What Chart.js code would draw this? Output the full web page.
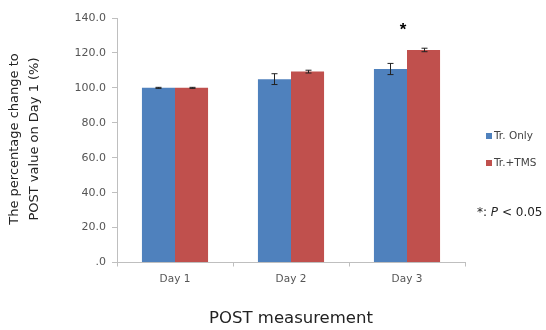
<!DOCTYPE html>
<html><head><meta charset="utf-8">
<script src="https://cdn.jsdelivr.net/npm/chart.js@4/dist/chart.umd.min.js"></script>
<style>html,body{margin:0;padding:0;background:#fff}#wrap{width:546px;height:330px}</style>
</head><body><div id="wrap"><canvas id="c" width="546" height="330"></canvas></div>
<script>
const categories = ['Day 1', 'Day 2', 'Day 3'];
const trOnly = [100.0, 105.0, 110.8];
const trOnlyErr = [0.3, 3.1, 3.2];
const trTMS = [100.0, 109.3, 121.7];
const trTMSErr = [0.3, 0.8, 1.0];
const seriesNames = ['Tr. Only', 'Tr.+TMS'];
const yTicks = [0, 20, 40, 60, 80, 100, 120, 140];
const sigIndex = 2;
const sigNote = ['*: ', 'P', ' < 0.05'];
const yTitle = ['The percentage change to', 'POST value on Day 1 (%)'];
const xTitle = 'POST measurement';

const blue = '#4F81BD', red = '#C0504D';
const errs = [trOnlyErr, trTMSErr];
const FF = '"DejaVu Sans", sans-serif';

const overlay = {
  id: 'overlay',
  afterDatasetsDraw(chart) {
    const ctx = chart.ctx, y = chart.scales.y;
    ctx.save();
    ctx.strokeStyle = '#222'; ctx.lineWidth = 1;
    chart.data.datasets.forEach((ds, di) => {
      const meta = chart.getDatasetMeta(di);
      meta.data.forEach((bar, i) => {
        const v = ds.data[i], e = errs[di][i];
        const x = Math.round(bar.x) + 0.5;
        const yt = y.getPixelForValue(v + e), yb = y.getPixelForValue(v - e);
        ctx.beginPath();
        ctx.moveTo(x, yt); ctx.lineTo(x, yb);
        ctx.moveTo(x - 3, yt); ctx.lineTo(x + 3, yt);
        ctx.moveTo(x - 3, yb); ctx.lineTo(x + 3, yb);
        ctx.stroke();
      });
    });
    // significance asterisk
    const xs = chart.scales.x.getPixelForValue(sigIndex);
    ctx.fillStyle = '#000';
    ctx.font = 'bold 17px "Liberation Sans", Arial, sans-serif';
    ctx.textAlign = 'center'; ctx.textBaseline = 'middle';
    ctx.fillText('*', xs - 4, y.getPixelForValue(136) + 5);
    // axis titles
    ctx.fillStyle = '#222';
    ctx.font = '16.5px ' + FF;
    ctx.fillText(xTitle, 291, 319);
    ctx.font = '13px ' + FF;
    ctx.save();
    ctx.translate(15, 139); ctx.rotate(-Math.PI / 2);
    ctx.fillText(yTitle[0], 0, 0);
    ctx.restore();
    ctx.save();
    ctx.translate(35, 139); ctx.rotate(-Math.PI / 2);
    ctx.fillText(yTitle[1], 0, 0);
    ctx.restore();
    // legend
    ctx.font = '10.5px ' + FF;
    ctx.textAlign = 'left';
    const cols = [blue, red];
    [136, 163].forEach((ly, k) => {
      ctx.fillStyle = cols[k];
      ctx.fillRect(486, ly - 3, 6, 6);
      ctx.fillStyle = '#444';
      ctx.fillText(seriesNames[k], 494, ly);
    });
    // p note
    ctx.font = '12px ' + FF;
    ctx.fillStyle = '#222';
    let px = 477;
    ctx.fillText(sigNote[0], px, 213); px += ctx.measureText(sigNote[0]).width;
    ctx.font = 'italic 12px ' + FF;
    ctx.fillText(sigNote[1], px, 213); px += ctx.measureText(sigNote[1]).width;
    ctx.font = '12px ' + FF;
    ctx.fillText(sigNote[2], px, 213);
    ctx.restore();
  }
};

new Chart(document.getElementById('c'), {
  type: 'bar',
  data: {
    labels: categories,
    datasets: [
      { label: seriesNames[0], data: trOnly, backgroundColor: blue, borderWidth: 0 },
      { label: seriesNames[1], data: trTMS, backgroundColor: red, borderWidth: 0 }
    ]
  },
  options: {
    responsive: false, animation: false,
    layout: { padding: { left: 0, right: 81, top: 18, bottom: 0 } },
    plugins: { legend: { display: false }, tooltip: { enabled: false } },
    datasets: { bar: { categoryPercentage: 0.57, barPercentage: 1.0 } },
    scales: {
      x: {
        afterFit(s) { s.height = 67.5; },
        grid: { offset: true, drawOnChartArea: false, color: '#BFBFBF', tickLength: 4 },
        border: { color: '#BFBFBF' },
        ticks: { color: '#555', font: { size: 10.5, family: FF }, padding: 6 }
      },
      y: {
        min: 0, max: 140,
        afterFit(s) { s.width = 117; },
        afterBuildTicks(s) { s.ticks = yTicks.map(v => ({ value: v })); },
        grid: { drawOnChartArea: false, color: '#BFBFBF', tickLength: 5 },
        border: { color: '#BFBFBF' },
        ticks: {
          color: '#555', padding: 6,
          font: { size: 11, family: FF },
          callback: v => v === 0 ? '.0' : v.toFixed(1)
        }
      }
    }
  },
  plugins: [overlay]
});
</script></body></html>
